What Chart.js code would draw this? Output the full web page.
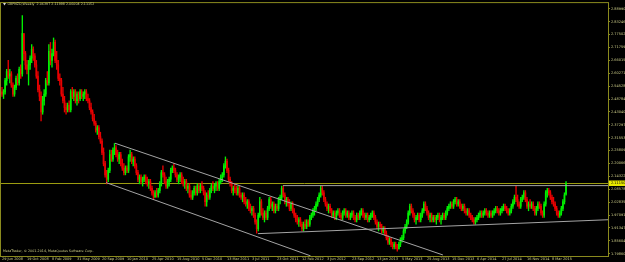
<!DOCTYPE html>
<html>
<head>
<meta charset="utf-8">
<title>GBPNZD Weekly</title>
<script src="https://cdn.jsdelivr.net/npm/chart.js@4.4.1/dist/chart.umd.min.js"></script>
<style>
html, body { margin: 0; padding: 0; background: #000; }
#wrap { width: 625px; height: 262px; }
</style>
</head>
<body>
<div id="wrap"><canvas id="chart" width="625" height="262"></canvas></div>
<script>
// GBPNZD weekly candles (one bar per week from 29 Jun 2008)
const headerText = 'GBPNZD,Weekly  2.06397 2.11998 2.06004 2.11152'
const copyrightText = 'MetaTrader, \u00a9 2001-2014, MetaQuotes Software Corp.'

const dateIdx = [0,16,32,48,64,80,96,112,128,144,160,176,192,208,224,240,256,272,288,304,320,336,352]
const dateLabels = ['29 Jun 2008','19 Oct 2008','8 Feb 2009','31 May 2009','20 Sep 2009','10 Jan 2010','25 Apr 2010','15 Aug 2010','5 Dec 2010','13 Mar 2011','3 Jul 2011','23 Oct 2011','12 Feb 2012','3 Jun 2012','23 Sep 2012','13 Jan 2013','5 May 2013','25 Aug 2013','15 Dec 2013','6 Apr 2014','27 Jul 2014','16 Nov 2014','8 Mar 2015']

const priceTicks = [1.79860,1.85604,1.91347,1.97091,2.02835,2.08578,2.14322,2.20066,2.25809,2.31553,2.37297,2.43040,2.48784,2.54528,2.60271,2.66015,2.71759,2.77502,2.83246,2.88990]

const opens = [
2.52,2.51,2.52,2.57,2.61,2.59,2.60,2.55,2.51,2.54,
2.58,2.56,2.62,2.60,2.78,2.69,2.64,2.62,2.64,2.67,
2.71,2.68,2.64,2.59,2.53,2.50,2.43,2.48,2.51,2.57,
2.56,2.70,2.66,2.69,2.74,2.66,2.64,2.58,2.57,2.51,
2.48,2.45,2.44,2.46,2.44,2.52,2.50,2.52,2.48,2.51,
2.49,2.52,2.50,2.51,2.52,2.49,2.48,2.45,2.43,2.40,
2.38,2.35,2.36,2.32,2.30,2.25,2.20,2.15,2.13,2.17,
2.24,2.22,2.26,2.27,2.24,2.22,2.24,2.20,2.18,2.16,
2.18,2.17,2.23,2.24,2.21,2.22,2.19,2.16,2.13,2.14,
2.12,2.13,2.14,2.12,2.11,2.12,2.09,2.07,2.05,2.07,
2.06,2.08,2.11,2.16,2.15,2.12,2.10,2.12,2.13,2.17,
2.18,2.17,2.15,2.13,2.14,2.15,2.12,2.11,2.12,2.09,
2.10,2.06,2.05,2.07,2.09,2.07,2.10,2.08,2.10,2.09,
2.07,2.03,2.06,2.05,2.08,2.10,2.09,2.10,2.11,2.09,
2.12,2.14,2.15,2.19,2.21,2.17,2.13,2.11,2.08,2.09,
2.08,2.07,2.09,2.06,2.05,2.06,2.03,2.02,2.03,2.00,
1.99,2.00,1.97,1.94,1.91,1.97,2.03,1.98,1.96,1.98,
1.96,2.00,2.04,2.01,2.02,1.99,2.01,2.00,2.04,2.05,
2.09,2.06,2.03,2.04,2.02,2.00,2.02,1.99,1.97,1.95,
1.94,1.95,1.93,1.91,1.93,1.92,1.94,1.93,1.96,1.97,
1.99,2.00,2.02,2.04,2.06,2.09,2.07,2.04,2.02,2.00,
2.01,1.99,1.97,1.98,1.96,1.98,1.99,1.97,1.96,1.98,
1.99,1.97,1.98,1.96,1.97,1.98,1.96,1.95,1.97,1.96,
1.98,1.99,1.97,1.96,1.97,1.95,1.96,1.97,1.98,1.96,
1.94,1.92,1.93,1.92,1.90,1.91,1.89,1.87,1.85,1.86,
1.84,1.83,1.84,1.83,1.82,1.84,1.86,1.87,1.90,1.92,
1.94,1.98,2.01,1.99,1.97,1.95,1.96,1.97,1.95,1.97,
1.99,2.02,2.00,1.98,1.96,1.97,1.95,1.96,1.95,1.96,
1.97,1.95,1.96,1.97,1.96,1.98,2.00,2.01,2.02,2.01,
2.03,2.04,2.02,2.03,2.01,2.00,2.01,1.99,1.98,1.99,
1.97,1.96,1.95,1.94,1.95,1.96,1.97,1.98,1.97,1.98,
1.99,1.98,1.97,1.98,1.97,1.98,1.99,2.00,1.99,1.98,
1.99,2.00,2.01,2.00,1.99,1.98,1.99,2.01,2.03,2.05,
2.04,2.02,2.01,2.04,2.05,2.07,2.04,2.01,2.02,2.01,
2.02,2.00,1.98,2.00,2.02,2.01,1.98,1.97,2.02,2.07,
2.08,2.07,2.05,2.03,2.02,2.00,1.98,1.97,1.98,2.00,
2.03,2.064]

const highs = [
2.54,2.53,2.58,2.62,2.66,2.62,2.61,2.56,2.55,2.59,
2.60,2.63,2.64,2.86,2.78,2.70,2.66,2.66,2.68,2.73,
2.72,2.69,2.66,2.61,2.55,2.52,2.50,2.53,2.58,2.61,
2.73,2.74,2.71,2.76,2.75,2.70,2.66,2.60,2.58,2.54,
2.50,2.47,2.47,2.48,2.53,2.54,2.53,2.53,2.52,2.52,
2.53,2.53,2.52,2.53,2.53,2.51,2.49,2.47,2.44,2.42,
2.39,2.37,2.37,2.34,2.31,2.27,2.21,2.17,2.18,2.26,
2.26,2.27,2.29,2.28,2.26,2.25,2.25,2.22,2.20,2.19,
2.19,2.24,2.26,2.25,2.23,2.23,2.20,2.17,2.15,2.15,
2.14,2.15,2.15,2.14,2.13,2.13,2.10,2.08,2.08,2.09,
2.09,2.12,2.17,2.19,2.16,2.14,2.13,2.14,2.18,2.19,
2.20,2.18,2.16,2.15,2.16,2.16,2.14,2.13,2.13,2.11,
2.11,2.08,2.08,2.10,2.10,2.11,2.11,2.11,2.12,2.10,
2.08,2.07,2.08,2.09,2.11,2.12,2.11,2.12,2.12,2.13,
2.15,2.16,2.20,2.23,2.22,2.18,2.14,2.12,2.10,2.11,
2.10,2.10,2.10,2.07,2.07,2.07,2.05,2.04,2.04,2.02,
2.01,2.01,1.98,1.95,1.98,2.05,2.04,2.00,1.99,1.99,
2.01,2.05,2.05,2.03,2.03,2.02,2.02,2.05,2.06,2.10,
2.10,2.07,2.05,2.05,2.04,2.03,2.03,2.00,1.98,1.97,
1.96,1.96,1.94,1.94,1.95,1.95,1.95,1.97,1.98,2.00,
2.01,2.03,2.05,2.07,2.10,2.10,2.08,2.05,2.03,2.02,
2.02,2.00,1.99,1.99,1.99,2.00,2.00,1.98,1.99,2.00,
2.00,1.99,1.99,1.98,1.99,1.99,1.97,1.98,1.98,1.99,
2.00,2.00,1.98,1.98,1.98,1.97,1.98,1.99,1.99,1.97,
1.95,1.94,1.94,1.93,1.92,1.92,1.90,1.88,1.87,1.87,
1.85,1.85,1.85,1.84,1.85,1.87,1.88,1.91,1.93,1.95,
1.99,2.02,2.02,2.00,1.98,1.97,1.98,1.98,1.98,2.00,
2.03,2.03,2.01,1.99,1.98,1.98,1.97,1.97,1.97,1.98,
1.98,1.97,1.98,1.98,1.99,2.01,2.02,2.03,2.03,2.04,
2.05,2.05,2.04,2.04,2.02,2.02,2.02,2.00,2.00,2.00,
1.98,1.97,1.96,1.96,1.97,1.98,1.99,1.99,1.99,2.00,
2.00,1.99,1.99,1.99,1.99,2.00,2.01,2.01,2.00,2.00,
2.01,2.02,2.02,2.01,2.00,2.00,2.02,2.04,2.06,2.10,
2.06,2.03,2.05,2.06,2.08,2.08,2.05,2.03,2.04,2.03,
2.03,2.01,2.01,2.03,2.03,2.02,1.99,2.03,2.08,2.09,
2.09,2.08,2.06,2.05,2.03,2.01,1.99,1.99,2.01,2.04,
2.07,2.120]

const lows = [
2.50,2.49,2.51,2.55,2.58,2.56,2.54,2.50,2.50,2.53,
2.55,2.55,2.58,2.59,2.66,2.62,2.60,2.55,2.62,2.65,
2.66,2.63,2.58,2.52,2.48,2.39,2.42,2.46,2.50,2.55,
2.55,2.64,2.63,2.68,2.65,2.62,2.57,2.55,2.50,2.47,
2.43,2.42,2.43,2.43,2.43,2.49,2.48,2.47,2.46,2.47,
2.48,2.49,2.48,2.49,2.48,2.47,2.44,2.42,2.39,2.37,
2.34,2.33,2.31,2.29,2.24,2.19,2.14,2.11,2.12,2.16,
2.21,2.21,2.24,2.23,2.21,2.20,2.19,2.17,2.15,2.15,
2.16,2.16,2.21,2.20,2.19,2.18,2.15,2.12,2.11,2.11,
2.10,2.12,2.11,2.10,2.09,2.08,2.06,2.04,2.05,2.05,
2.05,2.07,2.10,2.14,2.11,2.09,2.09,2.10,2.12,2.16,
2.16,2.14,2.12,2.11,2.12,2.11,2.10,2.09,2.08,2.07,
2.05,2.04,2.04,2.06,2.06,2.06,2.07,2.07,2.08,2.06,
2.01,2.01,2.04,2.04,2.07,2.08,2.07,2.08,2.08,2.08,
2.11,2.12,2.14,2.18,2.16,2.12,2.10,2.07,2.06,2.07,
2.06,2.06,2.05,2.04,2.03,2.02,2.01,2.00,1.99,1.98,
1.97,1.96,1.93,1.89,1.90,1.96,1.97,1.95,1.94,1.95,
1.95,1.99,2.00,1.99,1.98,1.98,1.99,1.99,2.02,2.04,
2.05,2.02,2.01,2.01,1.99,1.99,1.98,1.96,1.94,1.93,
1.92,1.92,1.90,1.90,1.91,1.91,1.92,1.92,1.95,1.96,
1.97,1.99,2.01,2.03,2.05,2.06,2.03,2.01,1.99,1.98,
1.98,1.96,1.96,1.95,1.95,1.97,1.96,1.95,1.95,1.97,
1.96,1.96,1.95,1.95,1.96,1.95,1.94,1.94,1.95,1.95,
1.97,1.96,1.95,1.95,1.94,1.94,1.95,1.96,1.95,1.93,
1.91,1.90,1.91,1.89,1.89,1.88,1.86,1.84,1.84,1.83,
1.82,1.82,1.82,1.81,1.82,1.83,1.85,1.86,1.89,1.91,
1.93,1.97,1.98,1.96,1.94,1.93,1.95,1.94,1.94,1.96,
1.98,1.99,1.97,1.95,1.94,1.94,1.94,1.94,1.93,1.95,
1.94,1.93,1.95,1.95,1.95,1.97,1.99,2.00,2.00,2.00,
2.02,2.01,2.01,2.00,1.99,1.99,1.98,1.97,1.97,1.96,
1.95,1.94,1.93,1.93,1.94,1.95,1.96,1.96,1.96,1.97,
1.97,1.96,1.96,1.96,1.96,1.97,1.98,1.98,1.97,1.97,
1.98,1.99,1.99,1.98,1.97,1.97,1.98,2.00,2.02,2.03,
2.01,2.00,2.00,2.03,2.04,2.03,2.00,1.99,2.00,2.00,
1.99,1.97,1.97,1.99,2.00,1.97,1.96,1.96,2.01,2.05,
2.06,2.04,2.02,2.01,1.99,1.97,1.96,1.96,1.97,1.99,
2.02,2.060]

const closes = [
2.51,2.52,2.57,2.61,2.59,2.60,2.55,2.51,2.54,2.58,
2.56,2.62,2.60,2.78,2.69,2.64,2.62,2.64,2.67,2.71,
2.68,2.64,2.59,2.53,2.50,2.43,2.48,2.51,2.57,2.56,
2.70,2.66,2.69,2.74,2.66,2.64,2.58,2.57,2.51,2.48,
2.45,2.44,2.46,2.44,2.52,2.50,2.52,2.48,2.51,2.49,
2.52,2.50,2.51,2.52,2.49,2.48,2.45,2.43,2.40,2.38,
2.35,2.36,2.32,2.30,2.25,2.20,2.15,2.13,2.17,2.24,
2.22,2.26,2.27,2.24,2.22,2.24,2.20,2.18,2.16,2.18,
2.17,2.23,2.24,2.21,2.22,2.19,2.16,2.13,2.14,2.12,
2.13,2.14,2.12,2.11,2.12,2.09,2.07,2.05,2.07,2.06,
2.08,2.11,2.16,2.15,2.12,2.10,2.12,2.13,2.17,2.18,
2.17,2.15,2.13,2.14,2.15,2.12,2.11,2.12,2.09,2.10,
2.06,2.05,2.07,2.09,2.07,2.10,2.08,2.10,2.09,2.07,
2.03,2.06,2.05,2.08,2.10,2.09,2.10,2.11,2.09,2.12,
2.14,2.15,2.19,2.21,2.17,2.13,2.11,2.08,2.09,2.08,
2.07,2.09,2.06,2.05,2.06,2.03,2.02,2.03,2.00,1.99,
2.00,1.97,1.94,1.91,1.97,2.03,1.98,1.96,1.98,1.96,
2.00,2.04,2.01,2.02,1.99,2.01,2.00,2.04,2.05,2.09,
2.06,2.03,2.04,2.02,2.00,2.02,1.99,1.97,1.95,1.94,
1.95,1.93,1.91,1.93,1.92,1.94,1.93,1.96,1.97,1.99,
2.00,2.02,2.04,2.06,2.09,2.07,2.04,2.02,2.00,2.01,
1.99,1.97,1.98,1.96,1.98,1.99,1.97,1.96,1.98,1.99,
1.97,1.98,1.96,1.97,1.98,1.96,1.95,1.97,1.96,1.98,
1.99,1.97,1.96,1.97,1.95,1.96,1.97,1.98,1.96,1.94,
1.92,1.93,1.92,1.90,1.91,1.89,1.87,1.85,1.86,1.84,
1.83,1.84,1.83,1.82,1.84,1.86,1.87,1.90,1.92,1.94,
1.98,2.01,1.99,1.97,1.95,1.96,1.97,1.95,1.97,1.99,
2.02,2.00,1.98,1.96,1.97,1.95,1.96,1.95,1.96,1.97,
1.95,1.96,1.97,1.96,1.98,2.00,2.01,2.02,2.01,2.03,
2.04,2.02,2.03,2.01,2.00,2.01,1.99,1.98,1.99,1.97,
1.96,1.95,1.94,1.95,1.96,1.97,1.98,1.97,1.98,1.99,
1.98,1.97,1.98,1.97,1.98,1.99,2.00,1.99,1.98,1.99,
2.00,2.01,2.00,1.99,1.98,1.99,2.01,2.03,2.05,2.04,
2.02,2.01,2.04,2.05,2.07,2.04,2.01,2.02,2.01,2.02,
2.00,1.98,2.00,2.02,2.01,1.98,1.97,2.02,2.07,2.08,
2.07,2.05,2.03,2.02,2.00,1.98,1.97,1.98,2.00,2.03,
2.06,2.1115]

// hand-drawn lines on the chart: [bar, price] end points
const upperChannel = [[72.3, 2.291], [282.2, 1.793]]
const lowerChannel = [[66.6, 2.1155], [197.5, 1.789]]
const resistance = [[179.8, 2.102], [388, 2.102]]
const support = [[163.8, 1.888], [388, 1.950]]

const upColor = '#00f000'
const downColor = '#e80000'
const axisColor = '#8a8a1e'
const textColor = '#cfcf8a'
const lineColor = '#a4a4a4'
const bidColor = '#9c9c10'
const fontFamily = 'DejaVu Sans'

const barColors = closes.map((c, i) => c >= opens[i] ? upColor : downColor)

const overlay = {
    id: 'overlay',
    beforeDatasetsDraw(chart) {
        const {ctx, chartArea, scales} = chart
        const py = Math.round(scales.y.getPixelForValue(closes[closes.length - 1])) + 0.5
        ctx.save()
        ctx.strokeStyle = bidColor
        ctx.lineWidth = 1
        ctx.beginPath()
        ctx.moveTo(chartArea.left, py)
        ctx.lineTo(chartArea.right, py)
        ctx.stroke()
        ctx.restore()
    },
    afterDraw(chart) {
        const {ctx, chartArea, scales} = chart
        ctx.save()
        // frame
        ctx.strokeStyle = axisColor
        ctx.lineWidth = 1
        ctx.strokeRect(chartArea.left - 0.5, chartArea.top - 0.5, chartArea.right - chartArea.left + 1, chartArea.bottom - chartArea.top + 1)

        // header with the little dropdown marker
        ctx.fillStyle = '#d8d8d8'
        ctx.beginPath()
        ctx.moveTo(3, 3)
        ctx.lineTo(6, 3)
        ctx.lineTo(4.5, 5.5)
        ctx.closePath()
        ctx.fill()
        ctx.font = '3.3px ' + fontFamily
        ctx.textBaseline = 'middle'
        ctx.textAlign = 'left'
        ctx.fillStyle = textColor
        ctx.fillText(headerText, 7.5, 4.5)

        // copyright
        ctx.fillText(copyrightText, 3, 251)

        // bid label on the price axis
        const bid = closes[closes.length - 1]
        const py = Math.round(scales.y.getPixelForValue(bid))
        ctx.fillStyle = '#e8e800'
        ctx.fillRect(chartArea.right + 1, py - 2.5, 625 - chartArea.right - 1, 5.5)
        ctx.fillStyle = '#000'
        ctx.font = '3.5px ' + fontFamily
        ctx.fillText(bid.toFixed(5), chartArea.right + 3, py + 0.3)
        ctx.restore()
    }
}

function lineSet(points) {
    return {
        type: 'line',
        data: points.map(p => ({x: p[0], y: p[1]})),
        borderColor: lineColor,
        borderWidth: 1,
        pointRadius: 0,
        fill: false,
        order: 0
    }
}

new Chart(document.getElementById('chart'), {
    type: 'bar',
    data: {
        datasets: [
            {
                label: 'wick',
                data: highs.map((h, i) => ({x: i, y: [lows[i], h]})),
                backgroundColor: barColors,
                barThickness: 0.7,
                grouped: false,
                order: 2
            },
            {
                label: 'body',
                data: opens.map((o, i) => ({x: i, y: [o, closes[i]]})),
                backgroundColor: barColors,
                barThickness: 1,
                grouped: false,
                order: 1
            },
            lineSet(upperChannel),
            lineSet(lowerChannel),
            lineSet(resistance),
            lineSet(support)
        ]
    },
    options: {
        responsive: false,
        animation: false,
        events: [],
        layout: { padding: { left: 1, top: 1, right: 0, bottom: 0 } },
        plugins: {
            legend: { display: false },
            tooltip: { enabled: false }
        },
        scales: {
            x: {
                type: 'linear',
                min: -0.64,
                max: 387.86,
                offset: false,
                afterBuildTicks: s => { s.ticks = dateIdx.map(v => ({value: v})) },
                afterFit: s => { s.height = 6 },
                border: { display: true, color: axisColor, width: 1 },
                grid: { offset: false, drawOnChartArea: false, drawTicks: true, tickLength: 1, color: axisColor },
                ticks: {
                    autoSkip: false,
                    maxRotation: 0,
                    align: 'start',
                    padding: 0,
                    color: textColor,
                    font: { family: fontFamily, size: 3.5 },
                    callback: v => dateLabels[dateIdx.indexOf(v)]
                }
            },
            y: {
                position: 'right',
                min: 1.7884,
                max: 2.9153,
                afterBuildTicks: s => { s.ticks = priceTicks.map(v => ({value: v})) },
                afterFit: s => { s.width = 17 },
                border: { display: true, color: axisColor, width: 1 },
                grid: { drawOnChartArea: false, drawTicks: true, tickLength: 2, color: axisColor },
                ticks: {
                    padding: 1,
                    color: textColor,
                    font: { family: fontFamily, size: 3.5 },
                    callback: v => v.toFixed(5)
                }
            }
        }
    },
    plugins: [overlay]
})
</script>
</body>
</html>
